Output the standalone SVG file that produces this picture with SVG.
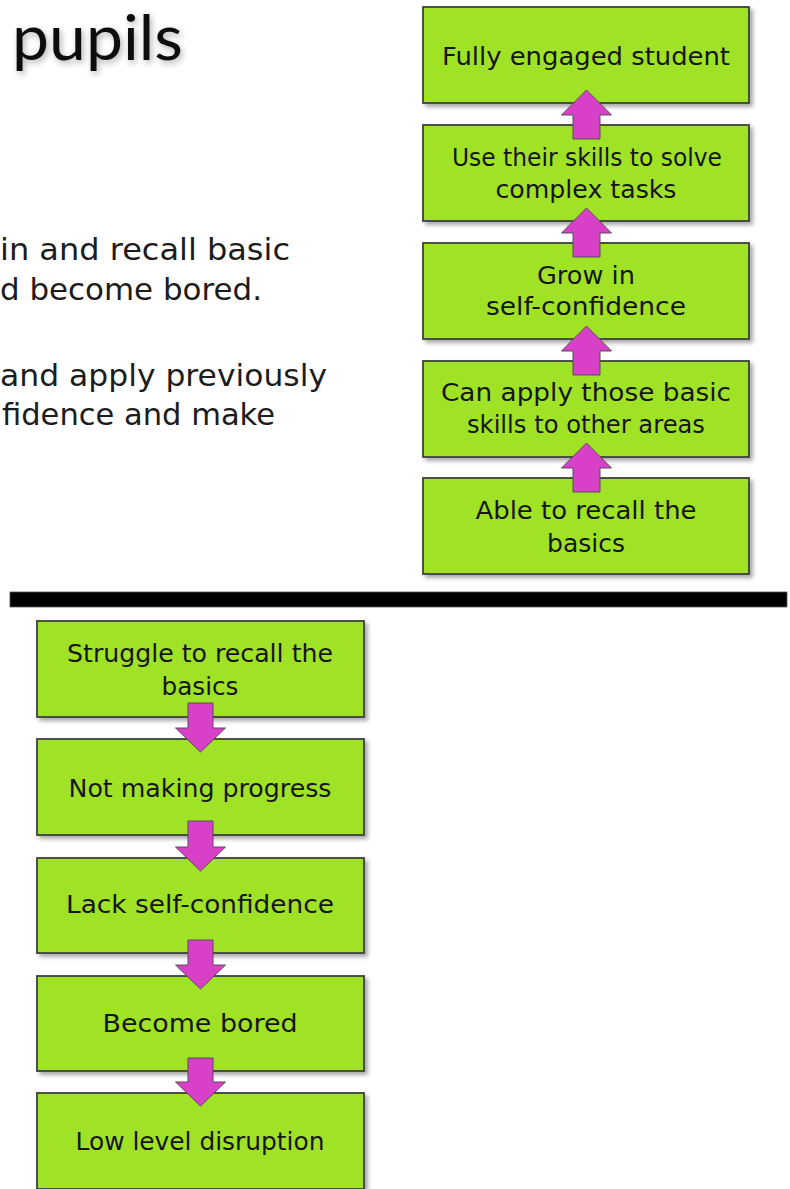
<svg xmlns="http://www.w3.org/2000/svg" width="790" height="1189" viewBox="0 0 790 1189">
<defs>
<filter id="sh" x="-10%" y="-10%" width="125%" height="130%">
<feDropShadow dx="3" dy="3" stdDeviation="2" flood-color="#000" flood-opacity="0.35"/>
</filter>
<filter id="tsh" x="-20%" y="-20%" width="140%" height="160%">
<feDropShadow dx="2" dy="3" stdDeviation="3" flood-color="#000" flood-opacity="0.3"/>
</filter>
<style>
.box{fill:#a0e226;stroke:#404040;stroke-width:1.8;filter:url(#sh)}
.bt{font-family:"DejaVu Sans",sans-serif;font-size:25px;fill:#161616;text-anchor:middle}
.arr{fill:#d840c8;stroke:#5a4a5a;stroke-width:1}
.body{font-family:"DejaVu Sans",sans-serif;font-size:31px;fill:#1c1c1c}
.title{font-family:"Lato","Open Sans",sans-serif;font-weight:400;font-size:62px;fill:#111}
</style>
</defs>
<rect width="790" height="1189" fill="#fff"/>
<g id="title"><text class="title" x="12" y="60" textLength="171" lengthAdjust="spacingAndGlyphs" filter="url(#tsh)">pupils</text></g>
<g id="bodytext">
<text class="body" x="0" y="260" textLength="290" lengthAdjust="spacingAndGlyphs">in and recall basic</text>
<text class="body" x="0" y="300" textLength="262" lengthAdjust="spacingAndGlyphs">d become bored.</text>
<text class="body" x="0" y="386" textLength="327" lengthAdjust="spacingAndGlyphs">and apply previously</text>
<text class="body" x="2" y="425" textLength="273" lengthAdjust="spacingAndGlyphs">fidence and make</text>
</g>
<rect id="divider" x="10" y="592" width="777" height="15" fill="#000" stroke="#555" stroke-width="0.8"/>
<g id="top1"><rect class="box" x="423" y="7" width="326" height="96"/><text class="bt" x="586" y="65" textLength="288" lengthAdjust="spacingAndGlyphs">Fully engaged student</text></g>
<g id="top2"><rect class="box" x="423" y="125" width="326" height="96"/><text class="bt" x="587" y="166" textLength="270" lengthAdjust="spacingAndGlyphs">Use their skills to solve</text><text class="bt" x="586" y="198" textLength="181" lengthAdjust="spacingAndGlyphs">complex tasks</text></g>
<g id="top3"><rect class="box" x="423" y="243" width="326" height="96"/><text class="bt" x="586" y="284" textLength="98" lengthAdjust="spacingAndGlyphs">Grow in</text><text class="bt" x="586" y="315" textLength="200" lengthAdjust="spacingAndGlyphs">self-confidence</text></g>
<g id="top4"><rect class="box" x="423" y="361" width="326" height="96"/><text class="bt" x="586" y="401" textLength="290" lengthAdjust="spacingAndGlyphs">Can apply those basic</text><text class="bt" x="586" y="433" textLength="238" lengthAdjust="spacingAndGlyphs">skills to other areas</text></g>
<g id="top5"><rect class="box" x="423" y="478" width="326" height="96"/><text class="bt" x="586" y="519" textLength="221" lengthAdjust="spacingAndGlyphs">Able to recall the</text><text class="bt" x="586" y="552" textLength="78" lengthAdjust="spacingAndGlyphs">basics</text></g>
<g id="bot1"><rect class="box" x="37" y="621" width="327" height="96"/><text class="bt" x="200" y="662" textLength="266" lengthAdjust="spacingAndGlyphs">Struggle to recall the</text><text class="bt" x="200" y="695" textLength="77" lengthAdjust="spacingAndGlyphs">basics</text></g>
<g id="bot2"><rect class="box" x="37" y="739" width="327" height="96"/><text class="bt" x="200" y="797" textLength="263" lengthAdjust="spacingAndGlyphs">Not making progress</text></g>
<g id="bot3"><rect class="box" x="37" y="858" width="327" height="95"/><text class="bt" x="200" y="913" textLength="268" lengthAdjust="spacingAndGlyphs">Lack self-confidence</text></g>
<g id="bot4"><rect class="box" x="37" y="976" width="327" height="95"/><text class="bt" x="200" y="1032" textLength="195" lengthAdjust="spacingAndGlyphs">Become bored</text></g>
<g id="bot5"><rect class="box" x="37" y="1093" width="327" height="96"/><text class="bt" x="200" y="1150" textLength="249" lengthAdjust="spacingAndGlyphs">Low level disruption</text></g>
<g id="connectors">
<polygon class="arr" points="586.5,90 611.5,115 600,115 600,139 573,139 573,115 561.5,115"/>
<polygon class="arr" points="586.5,208 611.5,233 600,233 600,257 573,257 573,233 561.5,233"/>
<polygon class="arr" points="586.5,326 611.5,351 600,351 600,375 573,375 573,351 561.5,351"/>
<polygon class="arr" points="586.5,443 611.5,468 600,468 600,492 573,492 573,468 561.5,468"/>
<polygon class="arr" points="200.5,752 225.5,728 213,728 213,703 188,703 188,728 175.5,728"/>
<polygon class="arr" points="200.5,871 225.5,847 213,847 213,821 188,821 188,847 175.5,847"/>
<polygon class="arr" points="200.5,989 225.5,965 213,965 213,940 188,940 188,965 175.5,965"/>
<polygon class="arr" points="200.5,1106 225.5,1082 213,1082 213,1058 188,1058 188,1082 175.5,1082"/>
</g>
</svg>
